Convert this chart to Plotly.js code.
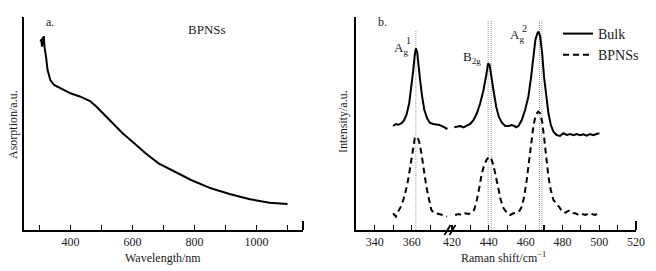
<!DOCTYPE html>
<html><head><meta charset="utf-8">
<script src="https://cdn.plot.ly/plotly-3.0.1.min.js"></script>
<style>html,body{margin:0;padding:0;background:#fff}#chart{width:656px;height:271px}</style>
</head><body><div id="chart"></div>
<script>
// ---- Data: panel a (UV-vis absorption of BPNSs) ----
const absWavelength = [303,306,308,310,312,314,316,318,321,326,335,347,368,400,432,463,484,505,537,568,600,642,684,737,789,853,916,979,1042,1100];
const absValue = [1.883,1.907,1.833,1.927,1.85,1.94,1.833,1.8,1.733,1.6,1.5,1.45,1.417,1.367,1.333,1.29,1.233,1.167,1.067,0.967,0.883,0.767,0.667,0.583,0.5,0.417,0.357,0.307,0.273,0.26];

// ---- Data: panel b (Raman), split at the axis break ----
const bulkShiftLow = [349.9,351.4,352.8,354.4,355.7,357.1,358.6,359.8,360.7,361.6,362.2,362.9,363.6,364.5,365.6,366.8,368.3,369.7,371.5,373.3,375.1,376.9,378.2,379.3];
const bulkIntLow = [1.04,1.06,1.053,1.067,1.093,1.15,1.267,1.433,1.583,1.75,1.817,1.783,1.683,1.5,1.333,1.2,1.117,1.073,1.06,1.057,1.05,1.033,1.023,1.01];
const bulkShiftHigh = [421.2,422.6,424.4,426.2,428.1,429.9,431.7,433.5,435.3,437.1,438.6,439.6,440.4,441.4,442.5,444.0,445.4,447.1,448.9,450.7,452.5,453.8,454.8,456.1,457.9,459.7,461.5,463.0,464.3,465.3,466.4,467.1,467.9,469.0,470.0,471.1,472.4,473.7,475.1,476.9,478.7,480.5,482.4,484.2,486.0,487.8,489.6,491.4,493.2,495.0,496.8,498.6,500.1];
const bulkIntHigh = [1.027,1.033,1.04,1.027,1.04,1.06,1.1,1.167,1.267,1.4,1.55,1.667,1.65,1.55,1.4,1.233,1.133,1.073,1.04,1.04,1.05,1.04,1.027,1.04,1.1,1.2,1.333,1.533,1.767,1.9,1.967,1.983,1.933,1.767,1.533,1.333,1.167,1.05,0.983,0.95,0.94,0.967,0.95,0.96,0.947,0.96,0.947,0.957,0.943,0.96,0.947,0.96,0.967];
const bpnsShiftLow = [349.9,351.4,352.6,354.1,355.7,357.5,358.9,360.4,361.6,362.9,364.0,365.2,366.5,367.9,369.4,370.6,371.9,373.3,375.1,376.9,379.1];
const bpnsIntLow = [0.167,0.133,0.183,0.233,0.317,0.45,0.6,0.8,0.917,0.933,0.883,0.767,0.6,0.433,0.3,0.2,0.173,0.167,0.16,0.15,0.133];
const bpnsShiftHigh = [421.7,423.5,425.3,427.1,429.0,430.8,432.0,433.5,434.9,436.2,437.5,438.9,440.4,441.4,442.5,443.8,445.2,446.5,448.0,449.8,451.6,453.4,455.2,456.7,457.9,459.2,460.6,461.9,463.2,464.3,465.5,466.8,467.9,469.0,470.0,471.1,472.4,473.7,475.1,476.6,478.4,479.8,481.6,483.4,485.2,487.1,488.9,490.7,492.5,494.3,496.1,497.9,500.1];
const bpnsIntHigh = [0.15,0.16,0.15,0.167,0.16,0.173,0.2,0.3,0.433,0.567,0.65,0.707,0.733,0.707,0.65,0.533,0.4,0.3,0.217,0.173,0.15,0.167,0.173,0.193,0.233,0.333,0.5,0.7,0.9,1.05,1.15,1.183,1.167,1.083,0.933,0.733,0.533,0.4,0.3,0.267,0.227,0.183,0.173,0.193,0.167,0.167,0.15,0.16,0.15,0.167,0.16,0.15,0.18];

// peak reference lines (Raman shift, cm^-1)
const peakLinesLow = [362.2];
const peakLinesHigh = [439.6, 441.3, 467.5, 468.8];
const seriesNames = ['Bulk', 'BPNSs'];

// ---- layout helpers (pixel -> paper) ----
const W = 656, H = 271;
const px = x => x / W, py = y => (H - y) / H;
const FONT = 'Liberation Serif, Times New Roman, serif';
const TXT = '#1a1a1a';

const solid = {color: '#000', width: 2};
const dashed = {color: '#000', width: 2, dash: '6px,4px'};

const traces = [
  {x: absWavelength, y: absValue, xaxis: 'x', yaxis: 'y', mode: 'lines', line: solid, showlegend: false},
  {x: bulkShiftLow, y: bulkIntLow, xaxis: 'x2', yaxis: 'y2', mode: 'lines', line: solid, name: seriesNames[0], legendgroup: 'b', showlegend: true},
  {x: bulkShiftHigh, y: bulkIntHigh, xaxis: 'x3', yaxis: 'y2', mode: 'lines', line: solid, name: seriesNames[0], legendgroup: 'b', showlegend: false},
  {x: bpnsShiftLow, y: bpnsIntLow, xaxis: 'x2', yaxis: 'y2', mode: 'lines', line: dashed, name: seriesNames[1], legendgroup: 'n', showlegend: true},
  {x: bpnsShiftHigh, y: bpnsIntHigh, xaxis: 'x3', yaxis: 'y2', mode: 'lines', line: dashed, name: seriesNames[1], legendgroup: 'n', showlegend: false}
];

const yDom = [py(230), py(17)];
const baseX = {
  showline: true, linecolor: '#000', linewidth: 2, ticks: 'inside', ticklen: 5, tickwidth: 1.2, tickcolor: '#000',
  showgrid: false, zeroline: false, tickfont: {family: FONT, size: 12, color: TXT}, fixedrange: true
};
const baseY = {
  showline: true, linecolor: '#000', linewidth: 2, ticks: 'inside', ticklen: 9, tickwidth: 2, tickcolor: '#000',
  showticklabels: false, showgrid: false, zeroline: false, range: [0, 2.13], domain: yDom, tickvals: [2.12], fixedrange: true
};

const shapes = [];
const dotLine = {color: '#9a9a9a', width: 1, dash: '1px,1px'};
peakLinesLow.forEach(v => shapes.push({type: 'line', xref: 'x2', yref: 'y2', x0: v, x1: v, y0: 0, y1: 2.0, line: dotLine, layer: 'below'}));
peakLinesHigh.forEach(v => shapes.push({type: 'line', xref: 'x3', yref: 'y2', x0: v, x1: v, y0: 0, y1: 2.1, line: dotLine, layer: 'below'}));
// longer end ticks
shapes.push({type: 'line', xref: 'paper', yref: 'paper', x0: px(303), x1: px(303), y0: py(230), y1: py(221), line: {color: '#000', width: 2}});
shapes.push({type: 'line', xref: 'paper', yref: 'paper', x0: px(636), x1: px(636), y0: py(230), y1: py(221), line: {color: '#000', width: 2}});
// axis break marks
shapes.push({type: 'line', xref: 'paper', yref: 'paper', x0: px(444.5), x1: px(450.5), y0: py(235), y1: py(225), line: {color: '#000', width: 1.8}});
shapes.push({type: 'line', xref: 'paper', yref: 'paper', x0: px(449.5), x1: px(455.5), y0: py(235), y1: py(225), line: {color: '#000', width: 1.8}});

const ann = (x, y, text, size, extra) => Object.assign({xref: 'paper', yref: 'paper', x: px(x), y: py(y), text: text, showarrow: false,
  font: {family: FONT, size: size, color: TXT}, xanchor: 'center', yanchor: 'middle'}, extra || {});

const annotations = [
  ann(50, 22, 'a.', 12),
  ann(207, 29, 'BPNSs', 13),
  ann(382, 22, 'b.', 12),
  ann(13, 125, 'Asorption/a.u.', 12, {textangle: -90}),
  ann(163, 258, 'Wavelength/nm', 12),
  ann(343, 122, 'Intensity/a.u.', 12, {textangle: -90}),
  ann(503, 257, 'Raman shift/cm<sup>−1</sup>', 12),
  ann(401, 48, 'A<sub>g</sub>', 13),
  ann(408, 40, '1', 10),
  ann(472, 57, 'B<sub>2g</sub>', 13),
  ann(517, 36, 'A<sub>g</sub>', 13),
  ann(524, 28, '2', 10)
];

const layout = {
  width: W, height: H, margin: {l: 0, r: 0, t: 0, b: 0}, paper_bgcolor: '#fff', plot_bgcolor: '#fff',
  font: {family: FONT, color: TXT},
  xaxis: Object.assign({}, baseX, {domain: [px(24), px(303)], range: [250, 1150], anchor: 'y', tick0: 0, dtick: 200,
    minor: {ticks: 'inside', ticklen: 5, tickwidth: 1.2, tickcolor: '#000', dtick: 100, tick0: 0, showgrid: false}}),
  yaxis: Object.assign({}, baseY, {anchor: 'x'}),
  xaxis2: Object.assign({}, baseX, {domain: [px(356), px(448)], range: [329.8, 379.6], anchor: 'y2', tick0: 0, dtick: 20,
    minor: {ticks: 'inside', ticklen: 5, tickwidth: 1.2, tickcolor: '#000', dtick: 10, tick0: 0, showgrid: false}}),
  xaxis3: Object.assign({}, baseX, {domain: [px(448), px(636)], range: [417.8, 520], anchor: 'y2', tick0: 0, dtick: 20,
    minor: {ticks: 'inside', ticklen: 5, tickwidth: 1.2, tickcolor: '#000', dtick: 10, tick0: 0, showgrid: false}}),
  yaxis2: Object.assign({}, baseY, {anchor: 'x2'}),
  showlegend: true,
  legend: {x: px(558), y: py(18), xanchor: 'left', yanchor: 'top', bgcolor: 'rgba(0,0,0,0)', borderwidth: 0,
    font: {family: FONT, size: 14, color: TXT}, itemwidth: 30, tracegroupgap: 0},
  shapes: shapes, annotations: annotations
};

Plotly.newPlot('chart', traces, layout, {displayModeBar: false, staticPlot: true});
</script></body></html>
